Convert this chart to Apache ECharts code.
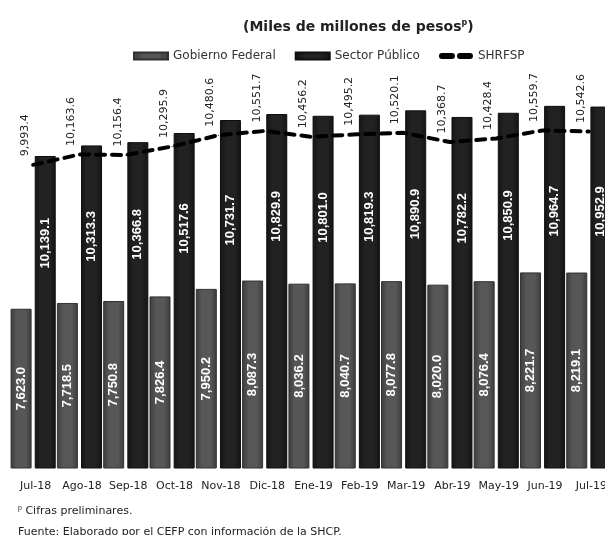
<!DOCTYPE html>
<html>
<head>
<meta charset="utf-8">
<style>
html,body{margin:0;padding:0;background:#fff;overflow:hidden;width:605px;height:535px;}
#c{width:625px;height:535px;}
</style>
<script src="https://cdn.jsdelivr.net/npm/echarts@6/dist/echarts.min.js"></script>
</head>
<body>
<div id="c"></div>
<script>
const categories = ['Jul-18','Ago-18','Sep-18','Oct-18','Nov-18','Dic-18','Ene-19','Feb-19','Mar-19','Abr-19','May-19','Jun-19','Jul-19'];
const gobiernoFederal = [7623.0, 7718.5, 7750.8, 7826.4, 7950.2, 8087.3, 8036.2, 8040.7, 8077.8, 8020.0, 8076.4, 8221.7, 8219.1];
const sectorPublico = [10139.1, 10313.3, 10366.8, 10517.6, 10731.7, 10829.9, 10801.0, 10819.3, 10890.9, 10782.2, 10850.9, 10964.7, 10952.9];
const shrfsp = [9993.4, 10163.6, 10156.4, 10295.9, 10480.6, 10551.7, 10456.2, 10495.2, 10520.1, 10368.7, 10428.4, 10559.7, 10542.6];

const fmt = v => v.toLocaleString('en-US', {minimumFractionDigits:1, maximumFractionDigits:1});
const gothic = '"DejaVu Sans", sans-serif';
const sans = '"Liberation Sans", Arial, sans-serif';

const hgrad = (edge, mid) => new echarts.graphic.LinearGradient(0, 0, 1, 0, [
  {offset: 0, color: edge}, {offset: 0.3, color: mid}, {offset: 0.7, color: mid}, {offset: 1, color: edge}
]);

const chart = echarts.init(document.getElementById('c'));
chart.setOption({
  animation: false,
  backgroundColor: '#fff',
  title: {
    text: '(Miles de millones de pesos{sup|p})',
    left: 238, top: 14,
    textStyle: {
      fontFamily: gothic, fontSize: 14, fontWeight: 'bold', color: '#222',
      rich: { sup: { fontSize: 8, fontWeight: 'bold', verticalAlign: 'top', padding: [0,0,8,0], fontFamily: gothic, color:'#222' } }
    }
  },
  legend: {
    top: 45, left: 128, itemGap: 19, itemWidth: 34, itemHeight: 7,
    textStyle: { fontFamily: gothic, fontSize: 12, color: '#333' },
    data: [
      {name: 'Gobierno Federal', icon: 'rect'},
      {name: 'Sector Público', icon: 'rect'},
      {name: 'SHRFSP', icon: 'path://M3,0h10a3,3 0 0 1 0,6h-10a3,3 0 0 1 0,-6zM21,0h10a3,3 0 0 1 0,6h-10a3,3 0 0 1 0,-6z'}
    ]
  },
  grid: { left: 10, right: 13, top: 43, bottom: 67, containLabel: false },
  xAxis: {
    type: 'category', data: categories,
    axisLine: {show: false}, axisTick: {show: false},
    axisLabel: { fontFamily: gothic, fontSize: 11, color: '#222', margin: 13, interval: 0, padding: [0,0,0,5] }
  },
  yAxis: { type: 'value', min: 5000, max: 12000, show: false, splitLine: {show: false} },
  series: [
    {
      name: 'Gobierno Federal', type: 'bar', data: gobiernoFederal,
      barWidth: 21, barGap: '15%',
      itemStyle: { color: hgrad('#3c3c3c', '#575757'), borderColor: '#303030', borderWidth: 1 },
      label: {
        show: true, position: 'inside', rotate: 90, align: 'center', verticalAlign: 'middle',
        formatter: p => fmt(p.value), color: '#fff', fontSize: 13, fontWeight: 'bold',
        fontFamily: sans
      }
    },
    {
      name: 'Sector Público', type: 'bar', data: sectorPublico,
      barWidth: 21,
      itemStyle: { color: hgrad('#141414', '#222222'), borderColor: '#0e0e0e', borderWidth: 1 },
      label: {
        show: true, position: ['50%', '36%'], rotate: 90, align: 'left', verticalAlign: 'middle',
        formatter: p => fmt(p.value), color: '#fff', fontSize: 13, fontWeight: 'bold',
        fontFamily: sans
      }
    },
    {
      name: 'SHRFSP', type: 'line', data: shrfsp, z: 5,
      symbol: 'circle', symbolSize: 1, showSymbol: true,
      lineStyle: { color: '#000', width: 4, type: [9, 7], cap: 'round' },
      itemStyle: { color: '#000' },
      label: {
        show: true, position: 'top', distance: 8, rotate: 90, align: 'left', verticalAlign: 'middle',
        offset: [0, -8],
        formatter: p => fmt(p.value), color: '#222', fontSize: 11,
        fontFamily: gothic
      }
    }
  ],
  graphic: [
    { type: 'text', left: 18, top: 505, style: { text: '{sup|p} Cifras preliminares.', fill: '#222', font: '11px "DejaVu Sans", sans-serif',
      rich: { sup: { fontSize: 7, verticalAlign: 'top', padding:[0,0,5,0] } } } },
    { type: 'text', left: 18, top: 527, style: { text: 'Fuente: Elaborado por el CEFP con información de la SHCP.', fill: '#222', font: '11px "DejaVu Sans", sans-serif' } }
  ]
});
</script>
</body>
</html>
